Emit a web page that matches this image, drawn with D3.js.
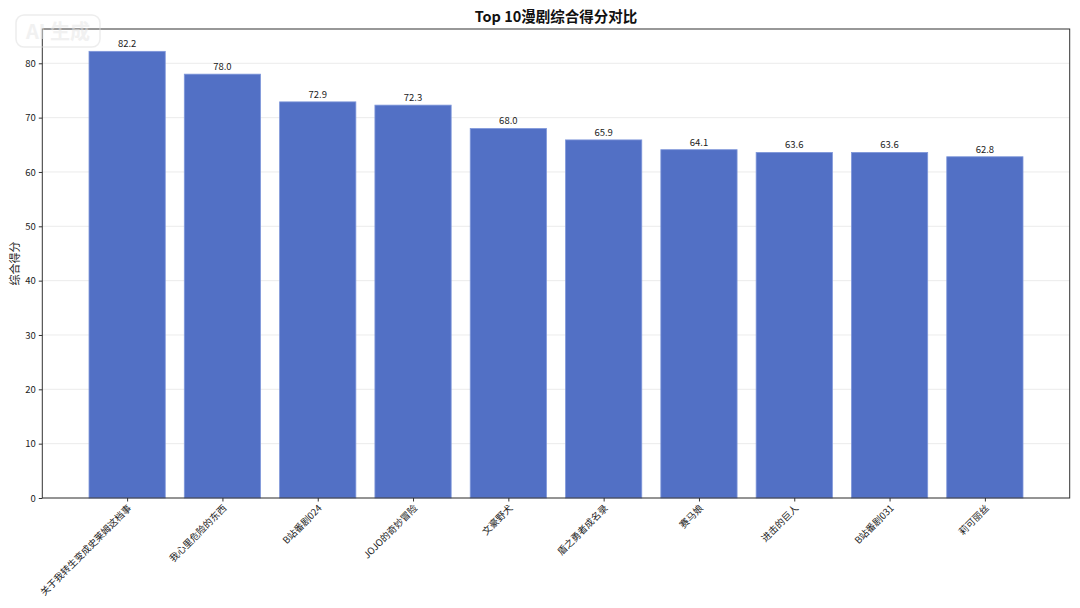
<!DOCTYPE html>
<html><head><meta charset="utf-8">
<script src="https://cdn.jsdelivr.net/npm/d3@7"></script>
<style>body{margin:0;background:#fff;} svg{display:block;font-family:"Noto Sans CJK SC","Noto Sans",sans-serif;}</style>
</head><body>
<svg id="c" width="1080" height="608"></svg>
<script>
const categories = ["关于我转生变成史莱姆这档事","我心里危险的东西","B站番剧024","JOJO的奇妙冒险","文豪野犬","盾之勇者成名录","赛马娘","进击的巨人","B站番剧031","莉可丽丝"];
const scores = [82.2, 78.0, 72.9, 72.3, 68.0, 65.9, 64.1, 63.6, 63.6, 62.8];
const yTicks = [0,10,20,30,40,50,60,70,80];
const titleText = "Top 10漫剧综合得分对比";
const yLabel = "综合得分";

const svg = d3.select("#c");
const L = 42.3, R = 1069.7, T = 29, B = 498;
const n = categories.length;
const x = d3.scaleLinear().domain([-0.89, n - 1 + 0.89]).range([L, R]);
const y = d3.scaleLinear().domain([0, d3.max(scores) * 1.05]).range([B, T]);
const bw = x(0.8) - x(0);

// grid
svg.append("g").selectAll("line").data(yTicks).join("line")
  .attr("x1", L).attr("x2", R).attr("y1", d => y(d)).attr("y2", d => y(d))
  .attr("stroke", "#e6e6e6").attr("stroke-width", 0.8);

// bars
svg.append("g").selectAll("rect").data(scores).join("rect")
  .attr("x", (d, i) => x(i) - bw / 2).attr("width", bw)
  .attr("y", d => y(d)).attr("height", d => B - y(d))
  .attr("fill", "#5270c5").attr("stroke", "#7f97da").attr("stroke-width", 0.8);

// value labels
svg.append("g").selectAll("text").data(scores).join("text")
  .attr("x", (d, i) => x(i)).attr("y", d => y(d) - 4)
  .attr("text-anchor", "middle").attr("font-size", 9.5).attr("fill", "#222")
  .text(d => d.toFixed(1));

// y axis
const ya = svg.append("g").attr("transform", `translate(${L},0)`)
  .call(d3.axisLeft(y).tickValues(yTicks).tickSize(3.5).tickPadding(3).tickFormat(d3.format("d")));
ya.select(".domain").remove();
ya.selectAll("text").attr("font-size", 9.5).attr("fill", "#222").attr("font-family", '"Noto Sans CJK SC","Noto Sans",sans-serif');
ya.selectAll("line").attr("stroke", "#333");

// x axis
const xa = svg.append("g").attr("transform", `translate(0,${B})`)
  .call(d3.axisBottom(x).tickValues(d3.range(n)).tickSize(3.5).tickFormat(() => ""));
xa.select(".domain").remove();
xa.selectAll("line").attr("stroke", "#333");
svg.append("g").selectAll("text").data(categories).join("text")
  .attr("transform", (d, i) => `translate(${x(i) + 3},${B + 9}) rotate(-45)`)
  .attr("text-anchor", "end").attr("dominant-baseline", "middle")
  .attr("font-size", 9.5).attr("fill", "#222").text(d => d);

// frame
svg.append("rect").attr("x", L).attr("y", T).attr("width", R - L).attr("height", B - T)
  .attr("fill", "none").attr("stroke", "#333").attr("stroke-width", 1);

// title
svg.append("text").attr("x", (L + R) / 2).attr("y", 22).attr("text-anchor", "middle")
  .attr("font-size", 14.5).attr("font-weight", "bold").attr("fill", "#111").text(titleText);

// y label
svg.append("text").attr("transform", `translate(19,${(T + B) / 2}) rotate(-90)`)
  .attr("text-anchor", "middle").attr("font-size", 11).attr("fill", "#222").text(yLabel);

// watermark
const wm = svg.append("g").attr("opacity", 0.5);
wm.append("rect").attr("x", 16).attr("y", 15).attr("width", 84).attr("height", 32).attr("rx", 8)
  .attr("fill", "none").attr("stroke", "#ddd").attr("stroke-width", 1.5);
wm.append("text").attr("x", 58).attr("y", 39).attr("text-anchor", "middle")
  .attr("font-size", 20).attr("font-weight", "bold").attr("fill", "#e4e4e4").text("AI 生成");
</script>
</body></html>
